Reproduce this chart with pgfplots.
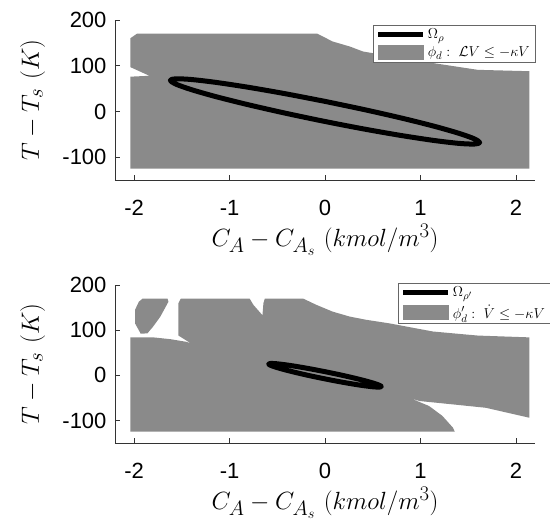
\documentclass[border=0pt]{standalone}
\usepackage{fontspec}
\setmainfont{Liberation Sans}
\usepackage{pgfplots}
\pgfplotsset{compat=1.18}

\definecolor{regiongray}{gray}{0.54}
\definecolor{axisgray}{gray}{0.2}

\pgfplotsset{
  panel/.style={
    scale only axis, width=420pt,
    xmin=-2.2, xmax=2.2, ymin=-150, ymax=200,
    axis x line*=bottom, axis y line*=left,
    axis line style={-, axisgray, line width=0.6pt},
    xtick={-2,-1,0,1,2}, xticklabels={-2,-1,0,1,2},
    ytick={-100,0,100,200}, yticklabels={-100,0,100,200},
    tick align=inside, major tick length=5pt,
    tick style={axisgray, line width=0.6pt},
    /pgf/number format/assume math mode=true,
    ticklabel style={font=\fontsize{22}{26}\selectfont},
    xticklabel style={yshift=-17pt},
    yticklabel style={xshift=-5pt},
    every axis x label/.style={at={(axis description cs:0.5,0)}, anchor=center,
      yshift=-60pt, font=\fontsize{30}{34}\selectfont},
    every axis y label/.style={at={(axis description cs:-0.196,0.5)}, anchor=center,
      rotate=90, font=\fontsize{30}{34}\selectfont},
    xlabel={$C_A - C_{A_s}\ (kmol/m^3)$},
    ylabel={$T - T_s\ (K)$},
    legend style={font=\fontsize{15.5}{18}\selectfont, draw=black!60,
      inner xsep=3pt, inner ysep=2pt, row sep=2.5pt,
      cells={anchor=west}},
  },
  lineimg/.style={legend image code/.code={\draw[black, line width=5pt] (0pt,0pt) -- (45pt,0pt);}},
  areaimg/.style={legend image code/.code={\fill[regiongray] (0pt,-7pt) rectangle (45pt,7pt);}},
}

\begin{document}
\begin{tikzpicture}

\begin{axis}[panel, height=160pt, at={(0pt,0pt)}, anchor=north west,
  legend style={at={(1,0.97)}, anchor=north east}]
\addlegendimage{lineimg}
\addlegendentry{$\Omega_\rho$}
\addlegendimage{areaimg}
\addlegendentry{$\phi_d:\ \mathcal{L}V \leq -\kappa V$}
% region where LV <= -kappa V
\addplot[fill=regiongray, draw=none, forget plot] coordinates {
  (-2.04,-125) (1.00,-125) (2.14,-125) (2.14,88) (1.60,91) (1.00,110)
  (0.40,131) (0.26,142) (0.08,153) (-0.08,170) (-1.97,170) (-2.04,160)
  (-2.04,97) (-1.84,78) (-2.04,76)
} -- cycle;
% stability region Omega_rho
\addplot[black, line width=5pt, smooth, line join=round, forget plot] coordinates {
  (0,22) (-0.419,38.85) (-0.810,53.05) (-1.146,63.64) (-1.403,69.89) (-1.565,71.37)
  (-1.620,68) (-1.565,59.99) (-1.403,47.89) (-1.146,32.52) (-0.810,14.95) (-0.419,-3.65)
  (0,-22) (0.419,-38.85) (0.810,-53.05) (1.146,-63.64) (1.403,-69.89) (1.565,-71.37)
  (1.620,-68) (1.565,-59.99) (1.403,-47.89) (1.146,-32.52) (0.810,-14.95) (0.419,3.65)
  (0,22)
};
\end{axis}

\begin{axis}[panel, height=158pt, at={(0pt,-265pt)}, anchor=north west,
  legend style={at={(1.036,1.013)}, anchor=north east}]
\addlegendimage{lineimg}
\addlegendentry{$\Omega_{\rho'}$}
\addlegendimage{areaimg}
\addlegendentry{$\phi'_d:\ \dot{V} \leq -\kappa V$}
% region where dV/dt <= -kappa V
\addplot[fill=regiongray, draw=none, forget plot] coordinates {
  (-2.04,-125) (-2.04,84) (-1.80,84) (-1.62,80) (-1.45,74) (-1.40,70)
  (-1.535,88) (-1.535,160) (-1.51,170) (-0.79,170) (-0.75,156) (-0.655,133)
  (-0.645,160) (-0.63,170) (-0.23,170) (-0.09,156) (0.08,141) (0.26,130)
  (0.43,123) (0.675,115) (1.13,97) (1.60,88) (2.14,84) (2.14,-94)
  (1.685,-72) (1.34,-64.5) (0.99,-57) (0.62,-33) (0.884,-50) (1.09,-68)
  (1.23,-90) (1.34,-116) (1.36,-125)
} -- cycle;
\addplot[fill=regiongray, draw=none, forget plot] coordinates {
  (-1.91,170) (-1.65,170) (-1.64,163) (-1.725,130) (-1.80,108) (-1.86,93)
  (-1.93,92) (-1.99,115) (-1.99,145) (-1.95,163)
} -- cycle;
\addplot[black, line width=5pt, smooth, line join=round, forget plot] coordinates {
  (0,8) (-0.153,14.20) (-0.295,19.43) (-0.417,23.34) (-0.511,25.65) (-0.570,26.22)
  (-0.590,25) (-0.570,22.08) (-0.511,17.65) (-0.417,12.02) (-0.295,5.57) (-0.153,-1.26)
  (0,-8) (0.153,-14.20) (0.295,-19.43) (0.417,-23.34) (0.511,-25.65) (0.570,-26.22)
  (0.590,-25) (0.570,-22.08) (0.511,-17.65) (0.417,-12.02) (0.295,-5.57) (0.153,1.26)
  (0,8)
};
\end{axis}

\pgfresetboundingbox
\path (-115pt,20pt) rectangle (435pt,-500pt);
\end{tikzpicture}
\end{document}
